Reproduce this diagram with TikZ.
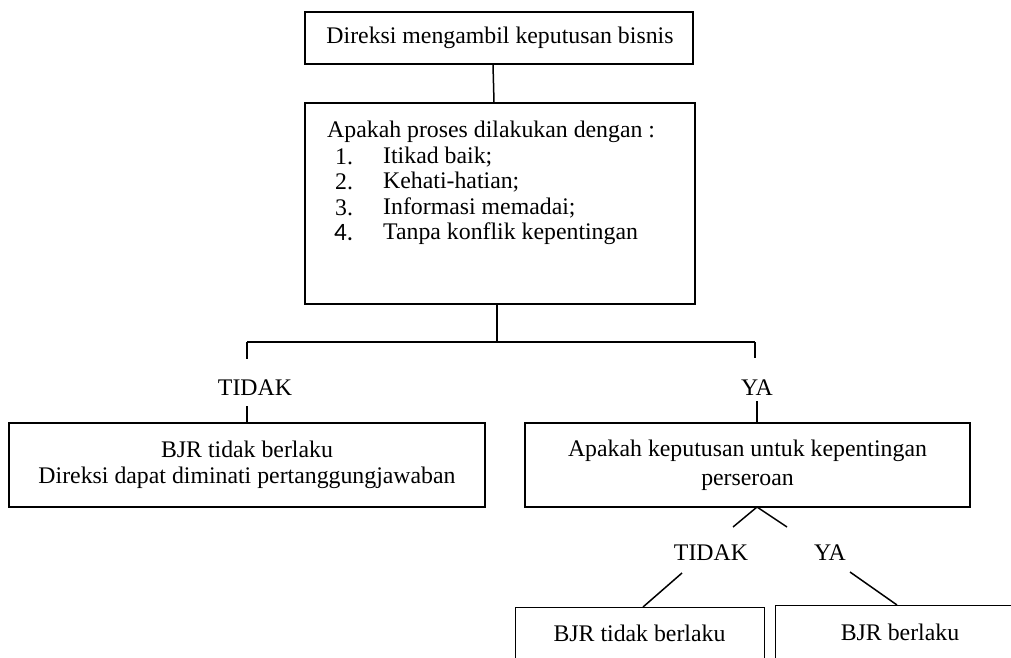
\documentclass[tikz,border=0pt]{standalone}
\usepackage{fontspec}
\setmainfont{Liberation Serif}
\newfontfamily\numfont{Carlito}
\begin{document}
\begin{tikzpicture}[x=1pt,y=-1pt,
  box/.style={draw, line width=1.3pt, inner sep=0pt, align=center},
  conn/.style={line width=1.5pt},
  lbl/.style={inner sep=0pt},
  every node/.append style={font=\fontsize{23.8}{27}\selectfont}]
\useasboundingbox (0,0) rectangle (1011,657);
\clip (0,0) rectangle (1011,657);
% boxes
\node[box, minimum width=388, minimum height=52] (a) at (499,38) {\hspace*{2pt}Direksi mengambil keputusan bisnis};
\node[box, minimum width=390, minimum height=201] (b) at (500,203.5) {};
\node[lbl, anchor=west] (bt) at (327,132) {Apakah proses dilakukan dengan :};
\node[lbl, anchor=west] (n1) at (335,157) {1.};
\node[lbl, anchor=west] (n2) at (335,182) {2.};
\node[lbl, anchor=west] (n3) at (335,208) {3.};
\node[lbl, anchor=west, font=\numfont\fontsize{25}{27}\selectfont] (n4) at (334,233) {4.};
\node[lbl, anchor=west] (i1) at (383,157) {Itikad baik;};
\node[lbl, anchor=west] (i2) at (383,182) {Kehati-hatian;};
\node[lbl, anchor=west] (i3) at (383,208) {Informasi memadai;};
\node[lbl, anchor=west] (i4) at (383,234) {Tanpa konflik kepentingan};
\node[box, minimum width=476, minimum height=84] (e) at (247,465) {BJR tidak berlaku\\[-0.5pt]Direksi dapat diminati pertanggungjawaban};
\node[box, minimum width=445, minimum height=84] (c) at (747.5,465) {Apakah keputusan untuk kepentingan\\[2pt]perseroan};
\node[box, minimum width=249, minimum height=90, anchor=north west] (d) at (515,607) {};
\node[lbl] (dt) at (639.5,633) {BJR tidak berlaku};
\node[box, minimum width=260, minimum height=90, anchor=north west] (f) at (775,605) {};
\node[lbl] (ft) at (900,632) {BJR berlaku};
% labels
\node[lbl] (t1) at (255,388) {TIDAK};
\node[lbl] (y1) at (757,388) {YA};
\node[lbl] (t2) at (711,553) {TIDAK};
\node[lbl] (y2) at (830,553) {YA};
% coordinates
\coordinate (j) at (497,342);
\coordinate (jl) at (247,342);
\coordinate (jr) at (755,342);
\coordinate (tl1) at (247,359);
\coordinate (tl2) at (247,406);
\coordinate (yr1) at (755,358);
\coordinate (yr2) at (757,401);
\coordinate (apex) at (757,507);
\coordinate (dl) at (733,527);
\coordinate (dr) at (787,527);
\coordinate (ll) at (682,573);
\coordinate (lr) at (850,572);
% connectors
\draw[conn] ([xshift=-6pt]a.south) -- ([xshift=-6pt]b.north);
\draw[conn] ([xshift=-3pt]b.south) -- (j);
\draw[conn] (jl) -- (jr);
\draw[conn] (jl) -- (tl1);
\draw[conn] (tl2) -- (e.north);
\draw[conn] (jr) -- (yr1);
\draw[conn] (yr2) -- ([xshift=9.5pt]c.north);
\draw[conn] (dl) -- (apex) -- (dr);
\draw[conn] (ll) -- ([xshift=128pt]d.north west);
\draw[conn] (lr) -- ([xshift=122pt]f.north west);
\end{tikzpicture}
\end{document}
